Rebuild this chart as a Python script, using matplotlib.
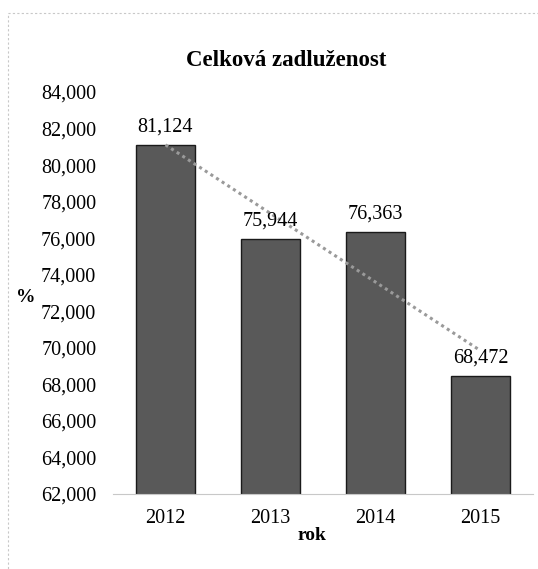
import matplotlib.pyplot as plt
import numpy as np
from matplotlib.patches import Rectangle
from matplotlib.ticker import FuncFormatter

plt.rcParams['font.family'] = ['Liberation Serif', 'DejaVu Serif']

years = ['2012', '2013', '2014', '2015']
values = [81.124, 75.944, 76.363, 68.472]


def cz(v, pos=None):
    return f'{v:.3f}'.replace('.', ',')


fig = plt.figure(figsize=(5.38, 5.69), dpi=100)
ax = fig.add_axes([113 / 538, 1 - 494 / 569, 420 / 538, 402 / 569])

x = np.arange(len(years))
ax.bar(x, values, width=0.56, bottom=0, color='#595959', edgecolor='#1a1a1a', linewidth=1.0, zorder=2)

# linear trendline like in Excel
k, q = np.polyfit(x, values, 1)
ax.plot(x, k * x + q, color='#9a9a9a', linestyle=(0, (1, 1.2)), linewidth=2.2, zorder=3)

for xi, v in zip(x, values):
    ax.annotate(cz(v), (xi, v), xytext=(0, 6), textcoords='offset points',
                ha='center', va='bottom', fontsize=14.5)

ax.set_xlim(-0.5, 3.5)
ax.set_ylim(62, 84)
ax.set_yticks(np.arange(62, 84.1, 2))
ax.yaxis.set_major_formatter(FuncFormatter(cz))
ax.set_xticks(x)
ax.set_xticklabels(years)
ax.tick_params(length=0, labelsize=14.5)
ax.tick_params(axis='y', pad=12)
ax.tick_params(axis='x', pad=11)

for s in ['top', 'right', 'left']:
    ax.spines[s].set_visible(False)
ax.spines['bottom'].set_color('#c8c8c8')
ax.spines['bottom'].set_linewidth(0.8)

fig.text(286 / 538, 1 - 60 / 569, 'Celková zadluženost', ha='center', va='center',
         fontsize=16.5, fontweight='bold')
fig.text(26 / 538, 1 - 297 / 569, '%', ha='center', va='center', fontsize=14, fontweight='bold')
fig.text(312 / 538, 1 - 536 / 569, 'rok', ha='center', va='center', fontsize=14, fontweight='bold')

# outer chart frame
fig.patches.append(Rectangle((8 / 538, -0.02), 1.1, 1 - 13 / 569 + 0.02, transform=fig.transFigure,
                             fill=False, edgecolor='#c8c8c8', linewidth=0.8, linestyle=(0, (2, 2))))

fig.savefig('out.png', dpi=100)
